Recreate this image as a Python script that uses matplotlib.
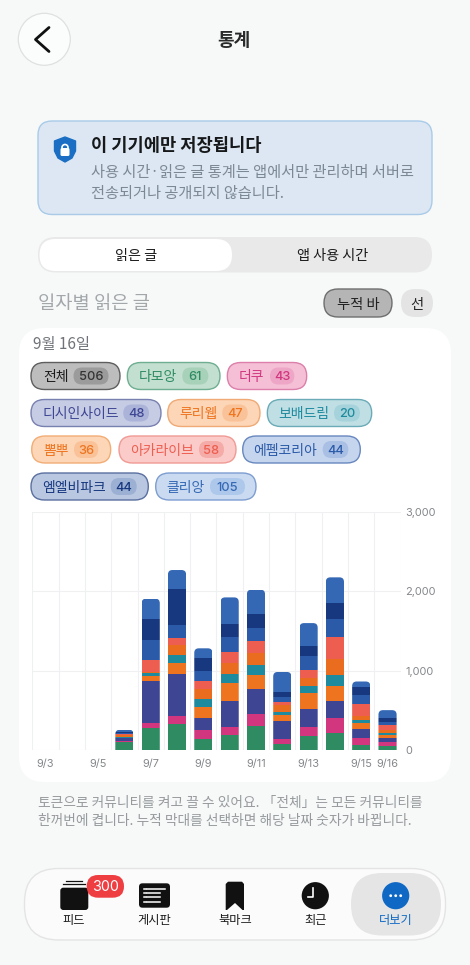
"""
통계 화면 - 일자별 읽은 글 (누적 바)
"""
import matplotlib
matplotlib.use("Agg")
import numpy as np
import matplotlib.pyplot as plt
from matplotlib.patches import FancyBboxPatch, Circle, Polygon
from matplotlib.transforms import IdentityTransform

plt.rcParams["font.family"] = ["Noto Sans CJK KR", "DejaVu Sans"]

# ============================================================
# DATA
# ============================================================

DAYS = ["9/3", "9/4", "9/5", "9/6", "9/7", "9/8", "9/9", "9/10",
        "9/11", "9/12", "9/13", "9/14", "9/15", "9/16"]
SHOWN_TICKS = ["9/3", "9/5", "9/7", "9/9", "9/11", "9/13", "9/15", "9/16"]
Y_TICKS = [0, 1000, 2000, 3000]

COMMUNITIES = ["다모앙", "더쿠", "디시인사이드", "루리웹", "보배드림",
               "뽐뿌", "아카라이브", "에펨코리아", "엠엘비파크", "클리앙"]
TODAY_COUNTS = [61, 43, 48, 47, 20, 36, 58, 44, 44, 105]

damoang = [0, 0, 0, 105, 276, 331, 147, 197, 310, 84, 184, 214, 71, 61]
theqoo = [0, 0, 0, 8, 63, 100, 105, 92, 151, 63, 105, 197, 88, 43]
dcinside = [0, 0, 0, 40, 528, 528, 155, 331, 310, 218, 226, 205, 109, 48]
ruliweb = [0, 0, 0, 8, 67, 134, 138, 230, 172, 80, 210, 197, 71, 47]
bobae = [0, 0, 0, 13, 33, 105, 96, 105, 130, 42, 84, 134, 42, 20]
ppomppu = [0, 0, 0, 25, 17, 126, 126, 142, 151, 84, 96, 201, 54, 36]
arca = [0, 0, 0, 8, 147, 84, 105, 134, 151, 38, 100, 277, 151, 58]
fmkorea = [0, 0, 0, 15, 256, 163, 126, 193, 163, 67, 180, 222, 109, 44]
mlbpark = [0, 0, 0, 12, 264, 457, 168, 168, 176, 63, 122, 210, 96, 44]
clien = [0, 0, 0, 26, 256, 239, 117, 331, 306, 247, 293, 318, 75, 105]
SERIES = [damoang, theqoo, dcinside, ruliweb, bobae,
          ppomppu, arca, fmkorea, mlbpark, clien]

BAR_COLORS = ["#2E8B62", "#D1367F", "#3E4694", "#EE7420", "#1E8A9E",
              "#EA6C1E", "#EE5E50", "#2B5AA8", "#17387F", "#3468B4"]

# ============================================================
# LAYOUT (픽셀 좌표)
# ============================================================

W, H = 470, 965
PLOT_L, PLOT_R, PLOT_T, PLOT_B = 32.3, 400.7, 511.7, 750.4
BG = "#F7F9F9"
NUM_FONT = ["Inter", "DejaVu Sans"]

# 칩: x0, x1, 줄, 라벨 중심 x, 숫자 pill x0, x1
CHIP_ROWS = [(362.5, 389.5), (399.5, 426.5), (436, 463), (473, 500)]
CHIP_GEOM = [
    (127.3, 220.0, 0, 157.7, 182.3, 208.3),
    (227.3, 306.7, 0, 251.7, 270.0, 294.3),
    (31.0, 161.0, 1, 80.3, 123.3, 149.0),
    (167.7, 260.0, 1, 198.0, 222.3, 247.7),
    (267.3, 371.7, 1, 303.8, 334.0, 360.0),
    (31.7, 110.7, 2, 56.2, 74.0, 98.3),
    (119.0, 236.0, 2, 161.8, 199.0, 224.0),
    (242.7, 360.3, 2, 285.5, 322.7, 348.3),
    (31.0, 148.3, 3, 74.2, 110.7, 136.7),
    (155.7, 256.0, 3, 185.0, 210.0, 245.0),
]
CHIP_FILL = ["#C2DFCF", "#F5BFD6", "#C6CCE4", "#FCD6B6", "#BFDFE4",
             "#FCD6B6", "#FBCBC9", "#C5D5EE", "#B9C7E1", "#CADAF1"]
CHIP_EDGE = ["#6FAE91", "#DC7FAA", "#7880B0", "#EFAA76", "#6BABB8",
             "#F2AD76", "#F09A94", "#6787BE", "#5A6F9F", "#7D9DD0"]
CHIP_PILL = ["#A8D1BA", "#EEA6C6", "#ABB3D9", "#F9C298", "#A6D3DB",
             "#F9C298", "#F5ABA7", "#A9BFE4", "#9CB0D3", "#AEC8EB"]
CHIP_TEXT = ["#2E8B62", "#D1367F", "#3E4694", "#EE7420", "#1E8A9E",
             "#EE7420", "#EE5E50", "#2B5AA8", "#17387F", "#3468B4"]


def rbox(ax, x0, y0, x1, y1, r, fc, ec="none", lw=1.0, z=1):
    p = FancyBboxPatch((x0 + r, y0 + r), x1 - x0 - 2 * r, y1 - y0 - 2 * r,
                       boxstyle=f"round,pad={r},rounding_size={r}",
                       fc=fc, ec=ec, lw=lw, zorder=z)
    ax.add_patch(p)
    return p


def txt(ax, x, y, s, size, color, weight="normal", ha="center", z=5, family=None):
    # Noto CJK 는 va=center 에서 살짝 위로 뜸
    kw = {"family": family} if family else {}
    ax.text(x, y + 2.2, s, fontsize=size, color=color, fontweight=weight,
            ha=ha, va="center", zorder=z, **kw)


fig = plt.figure(figsize=(W / 100, H / 100), dpi=100, facecolor=BG)
ui = fig.add_axes([0, 0, 1, 1])
ui.set_xlim(0, W)
ui.set_ylim(H, 0)
ui.axis("off")

# 상단
ui.add_patch(Circle((44.3, 39.3), 26, fc="#FBFCFC", ec="#DFE1E1", lw=0.9))
ui.plot([49, 35.5, 49], [27.5, 39.5, 51.5], color="#111111", lw=2.0,
        solid_capstyle="round", solid_joinstyle="round", zorder=4)
txt(ui, 234, 38.5, "통계", 13, "#2A2A2A", "bold")

# 안내 박스
rbox(ui, 38, 121, 432, 214.5, 14, "#DCE7F3", "#A9CBE8", 1.0)
ui.add_patch(Polygon([[54.5, 141], [65, 137], [75.5, 141], [75.5, 151], [72, 158],
                      [65, 162], [58, 158], [54.5, 151]],
                     fc="#1A6FC4", ec="#1A6FC4", lw=1, joinstyle="round", zorder=3))
rbox(ui, 60.5, 148, 69.5, 156, 1.5, "white", z=4)
ui.add_patch(Circle((65, 147.5), 3, fc="none", ec="white", lw=1.2, zorder=4))
txt(ui, 91, 144, "이 기기에만 저장됩니다", 12.7, "#16181A", "bold", ha="left")
txt(ui, 91, 170, "사용 시간·읽은 글 통계는 앱에서만 관리하며 서버로", 11, "#7C8894", ha="left")
txt(ui, 91, 191, "전송되거나 공개되지 않습니다.", 11, "#7C8894", ha="left")

# 탭
rbox(ui, 38, 237, 432, 272.5, 17.5, "#E9E9E9")
rbox(ui, 39.5, 239, 232, 271, 16, "white", z=2)
txt(ui, 136, 253.5, "읽은 글", 10.2, "#1A1A1A", "medium")
txt(ui, 332.5, 253.5, "앱 사용 시간", 10.2, "#1A1A1A", "medium")

txt(ui, 37.5, 301, "일자별 읽은 글", 13.5, "#A3A7AA", ha="left")
rbox(ui, 324, 289, 392, 317, 14, "#B5B5B5", "#6E6E6E", 1.0)
txt(ui, 358, 302.5, "누적 바", 10.3, "#222222", "medium")
rbox(ui, 401, 289, 433, 317, 14, "#E4E4E4")
txt(ui, 417, 302.5, "선", 10.3, "#222222", "medium")

# 카드
rbox(ui, 19, 328, 451, 782, 26, "white")
txt(ui, 33, 342, "9월 16일", 11, "#6F7378", ha="left")

# 칩
y0, y1 = CHIP_ROWS[0]
rbox(ui, 31, y0, 120, y1, 13.5, "#BDBDBD", "#5E5E5E", 1.0, z=2)
rbox(ui, 73.5, y0 + 5, 108.5, y1 - 5, 8.5, "#9B9B9B", z=3)
txt(ui, 55.8, 375, "전체", 10, "#1A1A1A", "medium")
txt(ui, 91, 375, str(sum(TODAY_COUNTS)), 9.2, "#333333", "medium", family=NUM_FONT)
for i, name in enumerate(COMMUNITIES):
    x0, x1, row, lx, px0, px1 = CHIP_GEOM[i]
    y0, y1 = CHIP_ROWS[row]
    mid = (y0 + y1) / 2 - 1
    rbox(ui, x0, y0, x1, y1, 13.5, CHIP_FILL[i], CHIP_EDGE[i], 1.0, z=2)
    rbox(ui, px0, y0 + 5, px1, y1 - 5, 8.5, CHIP_PILL[i], z=3)
    txt(ui, lx, mid, name, 10, CHIP_TEXT[i], "medium")
    txt(ui, (px0 + px1) / 2, mid, str(TODAY_COUNTS[i]), 9.2, CHIP_TEXT[i], "medium", family=NUM_FONT)

# 하단 안내문
txt(ui, 37.5, 801, "토큰으로 커뮤니티를 켜고 끌 수 있어요. 「전체」는 모든 커뮤니티를", 9.9, "#979A9D", ha="left")
txt(ui, 37.5, 819, "한꺼번에 켭니다. 누적 막대를 선택하면 해당 날짜 숫자가 바뀝니다.", 9.9, "#979A9D", ha="left")

# 하단 내비
rbox(ui, 24.5, 868.5, 445.5, 940, 34, "#FBFBFB", "#E4E4E4", 1.0)
rbox(ui, 351, 873, 441, 935.5, 31, "#E5E5E5", z=2)
ui.plot([66, 82], [881, 881], color="#111111", lw=0.9, zorder=3)
ui.plot([63, 85], [884.2, 884.2], color="#111111", lw=0.9, zorder=3)
rbox(ui, 60.3, 887.7, 88.3, 910, 3, "#111111", z=3)
rbox(ui, 86.7, 875, 124, 897.7, 11.3, "#EF3E42", z=4)
txt(ui, 105.3, 884.5, "300", 10.3, "white", family=NUM_FONT)
rbox(ui, 139, 883.3, 170, 907.7, 3.5, "#111111", z=3)
for yy in [889, 893, 897, 902]:
    ui.plot([144, 145.5], [yy, yy], color="white", lw=1.1, zorder=4)
    ui.plot([147, 165 if yy == 889 else 160], [yy, yy], color="white", lw=1.1, zorder=4)
ui.add_patch(Polygon([[225.7, 884], [228, 881.7], [242, 881.7], [244, 884], [244, 910],
                      [242.5, 910], [235, 903], [227, 910], [225.7, 910]],
                     fc="#111111", ec="none", zorder=3))
ui.add_patch(Circle((315.3, 895.7), 13.6, fc="#111111", ec="none", zorder=3))
ui.plot([312.5, 312.5, 308], [888, 897, 897], color="white", lw=1.2, zorder=4)
ui.add_patch(Circle((395.7, 895.7), 13.6, fc="#0F68C4", ec="none", zorder=3))
for dx in [-5, 0, 5]:
    ui.add_patch(Circle((395.7 + dx, 895.7), 1.4, fc="white", ec="none", zorder=4))
for xx, label, col in [(74, "피드", "#1A1A1A"), (154.5, "게시판", "#1A1A1A"),
                       (235, "북마크", "#1A1A1A"), (315.5, "최근", "#1A1A1A"),
                       (395.5, "더보기", "#0F68C4")]:
    txt(ui, xx, 918.5, label, 8.8, col, "medium")

# ============================================================
# 차트
# ============================================================

ax = fig.add_axes([PLOT_L / W, 1 - PLOT_B / H, (PLOT_R - PLOT_L) / W, (PLOT_B - PLOT_T) / H])
ax.patch.set_alpha(0)
x = np.arange(len(DAYS))
ax.set_xlim(-0.5, len(DAYS) - 0.5)
ax.set_ylim(0, 3000)

bottom = np.zeros(len(DAYS))
stacks = []
for values, color in zip(SERIES, BAR_COLORS):
    bars = ax.bar(x, values, width=0.69, bottom=bottom, color=color, linewidth=0, zorder=3)
    stacks.append(bars)
    bottom += np.array(values)

# 막대 윗부분 둥글게
for i, total in enumerate(bottom):
    if total <= 0:
        continue
    (px0, py0), (px1, py1) = ax.transData.transform([(i - 0.345, 0), (i + 0.345, total)])
    r = 4.5
    clip = FancyBboxPatch((px0 + r, py0 + r - 10), px1 - px0 - 2 * r, py1 - py0 - 2 * r + 10,
                          boxstyle=f"round,pad={r},rounding_size={r}",
                          transform=IdentityTransform())
    for bars in stacks:
        bars[i].set_clip_path(clip)

ax.set_xticks(x[[DAYS.index(d) for d in SHOWN_TICKS]])
ax.set_xticklabels(SHOWN_TICKS, family=NUM_FONT)
ax.set_xticks(np.arange(-0.5, len(DAYS)), minor=True)
ax.set_yticks(Y_TICKS)
ax.set_yticklabels([f"{v:,}" for v in Y_TICKS], family=NUM_FONT)
ax.yaxis.tick_right()
ax.tick_params(axis="both", which="both", length=0, labelsize=7.9, labelcolor="#84878B")
ax.tick_params(axis="x", which="major", pad=6)
ax.tick_params(axis="y", pad=3.5)
ax.grid(True, axis="y", which="major", color="#EEF0F2", lw=0.8, zorder=0)
ax.grid(True, axis="x", which="minor", color="#EEF0F2", lw=0.8, zorder=0)
ax.grid(False, axis="x", which="major")
for spine in ax.spines.values():
    spine.set_visible(False)

fig.savefig("out.png", dpi=100, facecolor=BG)
